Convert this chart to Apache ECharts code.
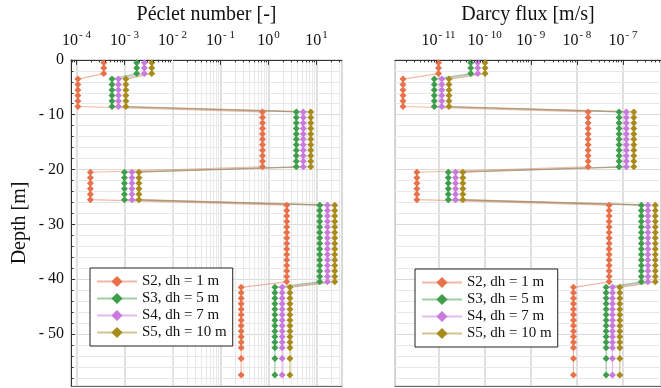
<!DOCTYPE html>
<html>
<head>
<meta charset="utf-8">
<script src="https://cdn.jsdelivr.net/npm/echarts@6/dist/echarts.min.js"></script>
<style>
  html, body { margin: 0; padding: 0; background: #fff; }
  #chart { width: 661px; height: 388px; }
</style>
</head>
<body>
<div id="chart"></div>
<script>
// depth of each sample, grouped by layer [m]
const depthLayers = [
  [-0.5, -1.5, -2.5],
  [-3.5, -4.5, -5.5, -6.5, -7.5, -8.5],
  [-9.5, -10.5, -11.5, -12.5, -13.5, -14.5, -15.5, -16.5, -17.5, -18.5, -19.5],
  [-20.5, -21.5, -22.5, -23.5, -24.5, -25.5],
  [-26.5, -27.5, -28.5, -29.5, -30.5, -31.5, -32.5, -33.5, -34.5, -35.5, -36.5, -37.5, -38.5, -39.5, -40.5],
  [-41.5, -42.5, -43.5, -44.5, -45.5, -46.5, -47.5, -48.5, -49.5, -50.5, -51.5, -52.5, -54.5, -57.5]
]

const seriesNames = ['S2, dh = 1 m', 'S3, dh = 5 m', 'S4, dh = 7 m', 'S5, dh = 10 m']
const seriesColors = ['#E8714A', '#3E9E4B', '#C97ADC', '#A88B1B']

// Péclet number per layer
const pecletS2 = [3.7e-4, 1.07e-4, 0.75, 1.95e-4, 2.4, 0.27]
const pecletS3 = [1.8e-3, 5.5e-4, 3.8, 1.0e-3, 11.7, 1.36]
const pecletS4 = [2.6e-3, 7.5e-4, 5.3, 1.43e-3, 16.9, 1.93]
const pecletS5 = [3.7e-3, 1.07e-3, 7.6, 2.0e-3, 24, 2.8]

// Darcy flux per layer [m/s]
const darcyS2 = [1.0e-11, 1.7e-12, 1.75e-8, 3.4e-12, 5.0e-8, 8.4e-9]
const darcyS3 = [5.0e-11, 8.1e-12, 8.2e-8, 1.63e-11, 2.5e-7, 4.3e-8]
const darcyS4 = [7.1e-11, 1.18e-11, 1.18e-7, 2.34e-11, 3.47e-7, 5.9e-8]
const darcyS5 = [1.02e-10, 1.69e-11, 1.71e-7, 3.36e-11, 5.0e-7, 8.5e-8]

const pecletRange = [7.7e-5, 34]
const darcyRange = [1.14e-12, 6.65e-7]
const depthRange = [-59.5, 0]
// minor depth grid every 2 m
const depthMinors = [-2, -4, -6, -8, -12, -14, -16, -18, -22, -24, -26, -28, -32, -34, -36, -38,
  -42, -44, -46, -48, -52, -54, -56, -58]

const FONT = 'Liberation Serif'

const toPoints = vals => depthLayers.flatMap((ds, i) => ds.map(d => [vals[i], d]))

const minorValues = (range) => {
  const out = []
  const lo = Math.floor(Math.log10(range[0]))
  const hi = Math.ceil(Math.log10(range[1]))
  for (let e = lo; e <= hi; e++) {
    for (let m = 2; m <= 9; m++) {
      const v = m * Math.pow(10, e)
      if (v > range[0] && v < range[1]) out.push(v)
    }
  }
  return out
}

const supLabel = v => {
  const e = Math.log10(v)
  if (Math.abs(e - Math.round(e)) > 1e-6) return ''
  const n = Math.round(e)
  const exp = n < 0 ? '- ' + Math.abs(n) : String(n)
  return '{b|10}{s|' + exp + '}'
}

const makeX = (gridIndex, name, range) => ({
  type: 'log',
  gridIndex,
  position: 'top',
  min: range[0],
  max: range[1],
  name,
  nameLocation: 'middle',
  nameGap: 29,
  nameTextStyle: { fontFamily: FONT, fontSize: 20, color: '#111' },
  axisLine: { onZero: false, lineStyle: { color: '#333', width: 1 } },
  axisTick: { inside: true, length: 5, lineStyle: { color: '#333' } },
  axisLabel: {
    margin: 8,
    showMinLabel: false,
    showMaxLabel: false,
    formatter: supLabel,
    rich: {
      b: { fontFamily: FONT, fontSize: 16, color: '#111' },
      s: { fontFamily: FONT, fontSize: 11, color: '#111', padding: [0, 0, 11, 1] }
    }
  },
  splitLine: { show: true, lineStyle: { color: '#d6d6d6', width: 1.5 } }
})

const makeBottomX = (gridIndex, range) => ({
  type: 'log',
  gridIndex,
  position: 'bottom',
  min: range[0],
  max: range[1],
  axisLine: { onZero: false, lineStyle: { color: '#666' } },
  axisTick: { show: false },
  axisLabel: { show: false },
  splitLine: { show: false }
})

const makeY = (gridIndex, labels) => ({
  type: 'value',
  gridIndex,
  min: depthRange[0],
  max: depthRange[1],
  splitNumber: 6,
  name: labels ? 'Depth [m]' : '',
  nameLocation: 'middle',
  nameGap: 41,
  nameTextStyle: { fontFamily: FONT, fontSize: 20, color: '#111' },
  axisLine: { show: true, lineStyle: { color: labels ? '#333' : '#ccc' } },
  axisTick: { show: labels, inside: true, length: 4, lineStyle: { color: '#333' } },
  axisLabel: {
    show: labels,
    showMinLabel: false,
    margin: 7,
    fontFamily: FONT,
    fontSize: 16,
    color: '#111',
    formatter: v => (v === 0 ? '0' : '- ' + Math.abs(v))
  },
  splitLine: { show: true, lineStyle: { color: '#dadada', width: 1.2 } }
})

const markBase = {
  silent: true,
  symbol: ['none', 'none'],
  animation: false,
  label: { show: false },
  emphasis: { disabled: true }
}

const gridDecor = (idx, range, ticks) => {
  const minors = minorValues(range)
  const tickX = range[0] * Math.pow(range[1] / range[0], 2.5 / 271)
  return [
    {
      type: 'line',
      xAxisIndex: idx * 2,
      yAxisIndex: idx,
      data: [],
      z: 1,
      silent: true,
      markLine: {
        ...markBase,
        z: 1,
        lineStyle: { color: '#e8e8e8', width: 1, type: 'solid' },
        data: minors.map(v => ({ xAxis: v })).concat(depthMinors.map(v => ({ yAxis: v })))
      }
    },
    {
      type: 'line',
      xAxisIndex: idx * 2,
      yAxisIndex: idx,
      data: [],
      z: 5,
      silent: true,
      markLine: {
        ...markBase,
        z: 5,
        lineStyle: { color: '#333', width: 1, type: 'solid' },
        data: minors.map(v => [{ coord: [v, 0] }, { coord: [v, -0.45] }]).concat(
          ticks ? depthMinors.map(v => [{ coord: [range[0], v] }, { coord: [tickX, v] }]) : []
        )
      }
    }
  ]
}

const dataSeries = (idx, sets) => sets.map((vals, i) => ({
  type: 'line',
  name: seriesNames[i],
  xAxisIndex: idx * 2,
  yAxisIndex: idx,
  data: toPoints(vals),
  symbol: 'diamond',
  symbolSize: 7,
  showSymbol: true,
  z: 3,
  itemStyle: { color: seriesColors[i] },
  lineStyle: { color: seriesColors[i], width: 1.2, opacity: 0.5 },
  emphasis: { disabled: true }
}))

const makeLegend = (left, top) => ({
  left,
  top,
  z: 10,
  orient: 'vertical',
  data: seriesNames,
  itemWidth: 40,
  itemHeight: 14,
  itemGap: 2,
  padding: [6, 6, 6, 6],
  backgroundColor: '#fff',
  borderColor: '#222',
  borderWidth: 1,
  borderRadius: 0,
  selectedMode: false,
  textStyle: { fontFamily: FONT, fontSize: 15, lineHeight: 14, color: '#111' }
})

const chart = echarts.init(document.getElementById('chart'))
const option = {
  animation: false,
  grid: [
    { left: 71, top: 54, width: 271, height: 332, show: true, borderColor: '#ccc', borderWidth: 1 },
    { left: 395, top: 54, right: -5, height: 332, show: true, borderColor: '#ccc', borderWidth: 1 }
  ],
  xAxis: [
    makeX(0, 'Péclet number [-]', pecletRange),
    makeBottomX(0, pecletRange),
    makeX(1, 'Darcy flux [m/s]', darcyRange),
    makeBottomX(1, darcyRange)
  ],
  yAxis: [makeY(0, true), makeY(1, false)],
  legend: [makeLegend(90, 268), makeLegend(415, 269)],
  series: [
    ...gridDecor(0, pecletRange, true),
    ...gridDecor(1, darcyRange, false),
    ...dataSeries(0, [pecletS2, pecletS3, pecletS4, pecletS5]),
    ...dataSeries(1, [darcyS2, darcyS3, darcyS4, darcyS5])
  ]
}

chart.setOption(option)
window.addEventListener('resize', () => {
  chart.resize()
})
</script>
</body>
</html>
